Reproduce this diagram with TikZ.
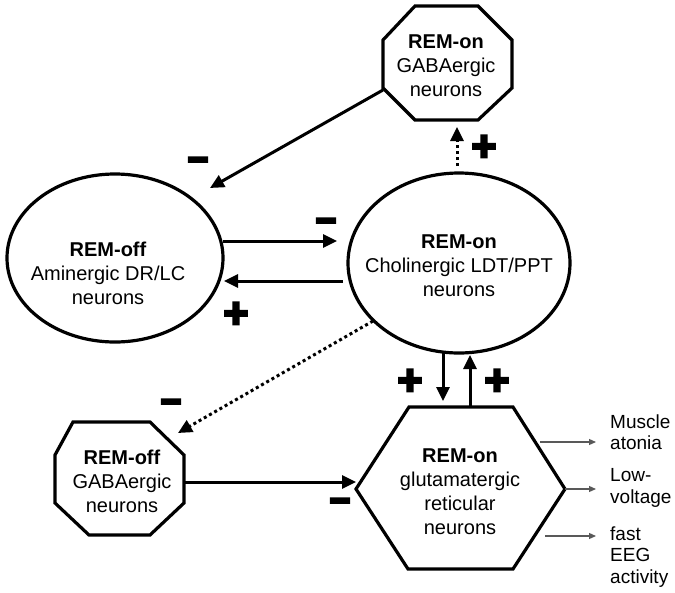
\documentclass[tikz,border=0pt]{standalone}
\usepackage{fontspec}
\usepackage{graphicx}
\setmainfont{Liberation Sans}
\newfontfamily\signfont[UprightFont={* Bold}, UprightFeatures={FakeBold=6}]{Liberation Sans}
\usetikzlibrary{shapes.geometric,arrows.meta}
\tikzset{
  shapeline/.style={line width=3.2pt, draw=black},
  lbl/.style={align=center, font=\fontsize{20}{24}\selectfont, inner sep=0pt},
  outlbl/.style={align=left, anchor=west, font=\fontsize{19}{21.5}\selectfont, inner sep=0pt},
  arr/.style={line width=3pt, -{Triangle[length=14pt,width=13pt]}},
  dotarr/.style={line width=3pt, dash pattern=on 3pt off 3pt, -{Triangle[length=14pt,width=13pt]}},
  outarr/.style={line width=1.2pt, draw=black!65, -{Triangle[length=7pt,width=6pt]}},
  plussign/.style={font=\signfont\fontsize{42}{42}\selectfont, inner sep=0pt},
  minussign/.style={font=\signfont\fontsize{27}{27}\selectfont, inner sep=0pt}
}
\newcommand{\plusmark}{+}
\newcommand{\minusmark}{\scalebox{1.35}[1.5]{–}}
\begin{document}
\begin{tikzpicture}[x=1pt,y=-1pt]
\useasboundingbox (0,0) rectangle (675,592);

% ellipses
\node[ellipse, shapeline, minimum width=216pt, minimum height=168pt] (ellL) at (115,258) {};
\node[ellipse, shapeline, minimum width=222pt, minimum height=180pt] (ellR) at (459,263) {};

% top octagon
\draw[shapeline, line join=miter] (415,6) -- (478,6) -- (512,40) -- (512,88) -- (478,120) -- (415,120) -- (383,88) -- (383,40) -- cycle;
% bottom-left octagon
\draw[shapeline, line join=miter] (73,422) -- (150,422) -- (184,455) -- (184,503) -- (150,535) -- (89,535) -- (55,503) -- (55,455) -- cycle;
% hexagon
\draw[shapeline, line join=miter] (409,407) -- (513,407) -- (565,489) -- (513,569) -- (408,569) -- (356,489) -- cycle;

% texts
\node[lbl] (octTt) at (446,66) {\textbf{REM-on}\\GABAergic\\neurons};
\node[lbl] (ellLt) at (108,273) {\textbf{REM-off}\\Aminergic DR/LC\\neurons};
\node[lbl] (ellRt) at (459,266) {\textbf{REM-on}\\Cholinergic LDT/PPT\\neurons};
\node[lbl] (octBt) at (122,481) {\textbf{REM-off}\\GABAergic\\neurons};
\node[lbl] (hexT) at (460,492) {\textbf{REM-on}\\glutamatergic\\reticular\\neurons};

\node[outlbl] (o1) at (610,432) {Muscle\\atonia};
\node[outlbl] (o2) at (610,488) {Low-\\voltage};
\node[outlbl] (o3) at (610,557) {fast\\EEG\\activity};

% connector coordinates
\coordinate (octTsw) at (383,90);
\coordinate (ellLne) at (210,188);
\coordinate (ellLr1) at (223,241);
\coordinate (ellRl1) at (337,241);
\coordinate (ellRl2) at (343,281);
\coordinate (ellLr2) at (224,281);
\coordinate (ellRtop) at (457,166);
\coordinate (octTbot) at (457,127);
\coordinate (ellRsw) at (373,321);
\coordinate (octBne) at (178,433);
\coordinate (ellRb1) at (443,353);
\coordinate (hexTop1) at (443,401);
\coordinate (hexTop2) at (470,407);
\coordinate (ellRb2) at (470,355);
\coordinate (octBe) at (184,482);
\coordinate (hexW) at (356,482);
\coordinate (h1) at (540,442);
\coordinate (h2) at (565,489);
\coordinate (h3) at (545,536);
\coordinate (t1) at (596,442);
\coordinate (t2) at (596,489);
\coordinate (t3) at (596,536);

% connectors
\draw[arr] (octTsw) -- (ellLne);
\draw[arr] (ellLr1) -- (ellRl1);
\draw[arr] (ellRl2) -- (ellLr2);
\draw[dotarr] (ellRtop) -- (octTbot);
\draw[dotarr] (ellRsw) -- (octBne);
\draw[arr] (ellRb1) -- (hexTop1);
\draw[arr] (hexTop2) -- (ellRb2);
\draw[arr] (octBe) -- (hexW);
\draw[outarr] (h1) -- (t1);
\draw[outarr] (h2) -- (t2);
\draw[outarr] (h3) -- (t3);

% signs
\node[minussign] (m1) at (198,164) {\minusmark};
\node[minussign] (m2) at (326,225) {\minusmark};
\node[plussign] (p1) at (236,315) {\plusmark};
\node[plussign] (p2) at (484,148) {\plusmark};
\node[plussign] (p3) at (410,382) {\plusmark};
\node[plussign] (p4) at (497,382) {\plusmark};
\node[minussign] (m3) at (171,406) {\minusmark};
\node[minussign] (m4) at (340,505) {\minusmark};
\end{tikzpicture}
\end{document}
